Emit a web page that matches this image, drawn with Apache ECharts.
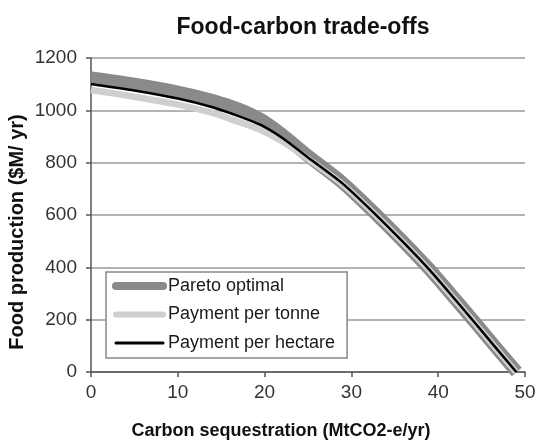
<!DOCTYPE html>
<html>
<head>
<meta charset="utf-8">
<script src="https://cdn.jsdelivr.net/npm/echarts@6/dist/echarts.min.js"></script>
<style>
html,body{margin:0;padding:0;background:#fff;}
#chart{width:536px;height:440px;}
</style>
</head>
<body>
<div id="chart"></div>
<script>
// ---- data ----
const chartTitle = 'Food-carbon trade-offs';
const xAxisTitle = 'Carbon sequestration (MtCO2-e/yr)';
const yAxisTitle = 'Food production ($M/ yr)';
const seriesNames = ['Pareto optimal', 'Payment per tonne', 'Payment per hectare'];

const paretoCarbon = [0, 5, 10, 14, 17, 19.5, 22, 25, 29, 33, 36, 39, 42, 44, 46.5, 49.05];
const paretoFood   = [1124, 1100, 1070, 1038, 1005, 966, 908, 826, 723, 597, 497, 392, 277, 199, 100, 0];

const tonneCarbon = [0, 5, 10, 14, 17, 19.5, 22, 25, 29, 33, 36, 39, 42, 44, 46.5, 48.95];
const tonneFood   = [1078, 1052, 1022, 990, 956, 926, 882, 814, 717, 593, 493, 388, 273, 195, 96, 0];

const hectareCarbon = [0, 5, 10, 14, 17, 19.5, 22, 25, 29, 33, 36, 39, 42, 44, 46.5, 49];
const hectareFood   = [1101, 1076, 1045, 1012, 978, 945, 895, 820, 720, 595, 495, 390, 275, 197, 98, 0];

const xTicks = [0, 10, 20, 30, 40, 50];
const yTicks = [0, 200, 400, 600, 800, 1000, 1200];

function pairs(xs, ys) { return xs.map((x, i) => [x, ys[i]]); }

const chart = echarts.init(document.getElementById('chart'), null, {renderer: 'canvas'});
const font = 'Liberation Sans, Arial, sans-serif';

chart.setOption({
  animation: false,
  backgroundColor: '#ffffff',
  title: {
    text: chartTitle,
    left: 298, top: 11, textAlign: 'center',
    textStyle: {fontFamily: font, fontSize: 23, fontWeight: 'bold', color: '#111'}
  },
  grid: {left: 91, right: 11, top: 58, bottom: 68, containLabel: false, outerBoundsMode: 'none'},
  legend: {
    orient: 'vertical',
    left: 106, top: 272,
    padding: [4, 12, 5, 6],
    itemGap: 8.5,
    itemWidth: 47, itemHeight: 14,
    backgroundColor: '#ffffff',
    borderColor: '#888888', borderWidth: 1.5, borderRadius: 0,
    textStyle: {fontFamily: font, fontSize: 18, color: '#1a1a1a', lineHeight: 20},
    data: [
      {name: seriesNames[0], itemStyle: {opacity: 0}, lineStyle: {width: 8, color: '#8a8a8a', cap: 'round'}},
      {name: seriesNames[1], itemStyle: {opacity: 0}, lineStyle: {width: 6, color: '#cfcfcf', cap: 'round'}},
      {name: seriesNames[2], itemStyle: {opacity: 0}, lineStyle: {width: 3, color: '#000000', cap: 'round'}}
    ]
  },
  xAxis: {
    type: 'value', min: xTicks[0], max: xTicks[xTicks.length - 1], interval: 10,
    name: xAxisTitle, nameLocation: 'middle', nameGap: 50, nameMoveOverlap: false,
    nameTextStyle: {fontFamily: font, fontSize: 18, fontWeight: 'bold', color: '#111', padding: [0, 54, 0, 0]},
    axisLine: {show: true, lineStyle: {color: '#555', width: 1.5}},
    axisTick: {show: true, inside: false, length: 5, lineStyle: {color: '#555', width: 1.5}},
    axisLabel: {fontFamily: font, fontSize: 19, color: '#333', margin: 11},
    splitLine: {show: false}
  },
  yAxis: {
    type: 'value', min: yTicks[0], max: yTicks[yTicks.length - 1], interval: 200,
    name: yAxisTitle, nameLocation: 'middle', nameGap: 64, nameMoveOverlap: false,
    nameTextStyle: {fontFamily: font, fontSize: 20, fontWeight: 'bold', color: '#111', padding: [0, 34, 0, 0]},
    axisLine: {show: true, lineStyle: {color: '#555', width: 1.5}},
    axisTick: {show: true, inside: false, length: 5, lineStyle: {color: '#555', width: 1.5}},
    axisLabel: {fontFamily: font, fontSize: 19, color: '#333', margin: 14, formatter: v => String(v)},
    splitLine: {show: true, lineStyle: {color: '#9a9a9a', width: 1.5}}
  },
  series: [
    {
      name: seriesNames[0], type: 'line', data: pairs(paretoCarbon, paretoFood),
      showSymbol: false, symbol: 'none', smooth: 0.25,
      lineStyle: {color: '#8a8a8a', width: 13}, itemStyle: {color: '#8a8a8a'}, z: 2
    },
    {
      name: seriesNames[1], type: 'line', data: pairs(tonneCarbon, tonneFood),
      showSymbol: false, symbol: 'none', smooth: 0.25,
      lineStyle: {color: '#cfcfcf', width: 6.5}, itemStyle: {color: '#cfcfcf'}, z: 3
    },
    {
      name: seriesNames[2], type: 'line', data: pairs(hectareCarbon, hectareFood),
      showSymbol: false, symbol: 'none', smooth: 0.25,
      lineStyle: {color: '#000000', width: 2.5}, itemStyle: {color: '#000000'}, z: 4
    }
  ]
});
</script>
</body>
</html>
